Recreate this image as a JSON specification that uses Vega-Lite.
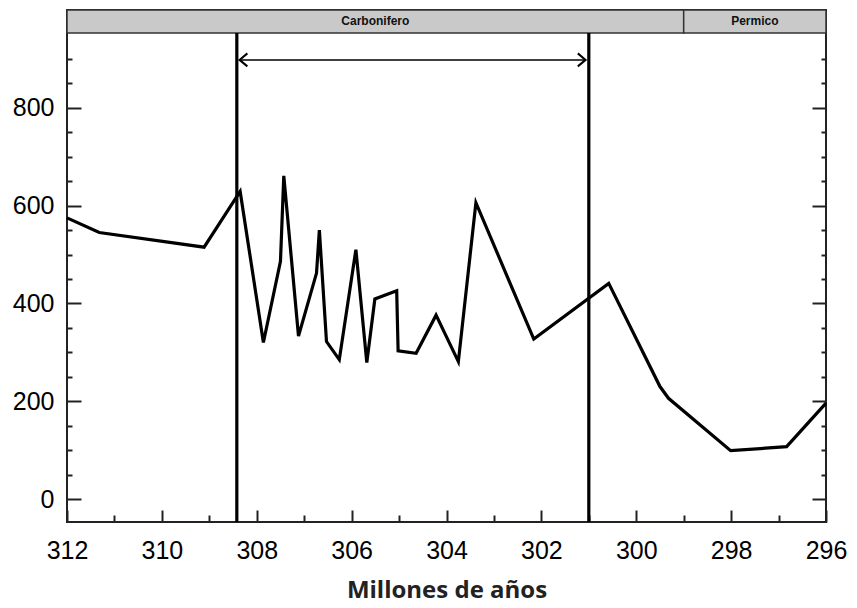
{
  "$schema": "https://vega.github.io/schema/vega-lite/v6.json",
  "width": 759,
  "height": 512,
  "autosize": "none",
  "padding": {"left": 67, "top": 10, "right": 31, "bottom": 86},
  "background": "white",
  "config": {
    "view": {"stroke": "#222", "strokeWidth": 2},
    "axis": {"grid": false, "domain": false, "labelColor": "black", "tickColor": "#222", "tickWidth": 2}
  },
  "datasets": {
    "serie": [
      {"edad": 312.0, "valor": 575},
      {"edad": 311.32, "valor": 545},
      {"edad": 309.11, "valor": 515},
      {"edad": 308.35, "valor": 629},
      {"edad": 307.86, "valor": 320},
      {"edad": 307.5, "valor": 486},
      {"edad": 307.43, "valor": 661},
      {"edad": 307.12, "valor": 333},
      {"edad": 306.74, "valor": 462},
      {"edad": 306.68, "valor": 550},
      {"edad": 306.53, "valor": 322},
      {"edad": 306.26, "valor": 285},
      {"edad": 305.91, "valor": 510},
      {"edad": 305.68, "valor": 279},
      {"edad": 305.51, "valor": 409},
      {"edad": 305.05, "valor": 426},
      {"edad": 305.02, "valor": 303},
      {"edad": 304.64, "valor": 298},
      {"edad": 304.22, "valor": 376},
      {"edad": 303.75, "valor": 281},
      {"edad": 303.38, "valor": 606},
      {"edad": 302.16, "valor": 327},
      {"edad": 300.58, "valor": 441},
      {"edad": 299.5, "valor": 230},
      {"edad": 299.32, "valor": 206},
      {"edad": 298.01, "valor": 99},
      {"edad": 296.83, "valor": 107},
      {"edad": 296.0, "valor": 196}
    ],
    "periodos": [
      {"periodo": "Carbonifero", "inicio": 312, "fin": 299},
      {"periodo": "Permico", "inicio": 299, "fin": 296}
    ],
    "limites": [{"edad": 308.42}, {"edad": 301.0}],
    "flecha": [{"desde": 308.36, "hasta": 301.07, "nivel": 898}],
    "puntas": [
      {"edad": 308.28, "nivel": 898, "dir": "izq"},
      {"edad": 301.15, "nivel": 898, "dir": "der"}
    ]
  },
  "layer": [
    {
      "data": {"name": "periodos"},
      "mark": {"type": "rect", "fill": "#c9c9c9", "stroke": "#333", "strokeWidth": 1.5},
      "encoding": {
        "x": {"field": "inicio", "type": "quantitative", "scale": {"domain": [312, 296]}, "axis": null},
        "x2": {"field": "fin"},
        "y": {"datum": 953, "type": "quantitative", "scale": {"domain": [-47, 1000], "nice": false, "zero": false}, "axis": null},
        "y2": {"datum": 1000}
      }
    },
    {
      "data": {"name": "periodos"},
      "transform": [{"calculate": "(datum.inicio + datum.fin) / 2", "as": "centro"}],
      "mark": {"type": "text", "font": "Liberation Sans", "fontWeight": "bold", "fontSize": 12, "color": "#111", "baseline": "middle"},
      "encoding": {
        "x": {"field": "centro", "type": "quantitative", "axis": null},
        "y": {"datum": 976.5, "type": "quantitative", "axis": null},
        "text": {"field": "periodo"}
      }
    },
    {
      "data": {"name": "serie"},
      "mark": {"type": "line", "color": "black", "strokeWidth": 3.2, "strokeJoin": "miter"},
      "encoding": {
        "x": {
          "field": "edad", "type": "quantitative",
          "axis": {
            "orient": "bottom",
            "values": [296, 297, 298, 299, 300, 301, 302, 303, 304, 305, 306, 307, 308, 309, 310, 311, 312],
            "labelExpr": "datum.value % 2 === 0 ? datum.label : ''",
            "tickSize": {"condition": {"test": "datum.value % 2 === 0", "value": -12}, "value": -7},
            "labelFont": "Liberation Sans", "labelFontSize": 25, "labelPadding": 28,
            "labelFlush": false, "labelOverlap": false, "labelBound": false,
            "title": "Millones de años", "titleFont": "Open Sans", "titleFontWeight": "bold", "titleFontSize": 24,
            "titleColor": "#222", "titlePadding": 10
          }
        },
        "y": {
          "field": "valor", "type": "quantitative",
          "axis": {
            "orient": "left",
            "values": [0, 50, 100, 150, 200, 250, 300, 350, 400, 450, 500, 550, 600, 650, 700, 750, 800, 850, 900],
            "labelExpr": "datum.value % 200 === 0 ? datum.label : ''",
            "tickSize": {"condition": {"test": "datum.value % 200 === 0", "value": -14}, "value": -5},
            "labelFont": "Liberation Sans", "labelFontSize": 25, "labelPadding": 27,
            "labelOverlap": false, "labelFlush": false,
            "title": null
          }
        }
      }
    },
    {
      "data": {"name": "limites"},
      "mark": {"type": "rule", "color": "black", "strokeWidth": 3.2},
      "encoding": {
        "x": {"field": "edad", "type": "quantitative", "axis": null},
        "y": {
          "datum": -47, "type": "quantitative",
          "axis": {
            "orient": "right",
            "values": [0, 50, 100, 150, 200, 250, 300, 350, 400, 450, 500, 550, 600, 650, 700, 750, 800, 850, 900],
            "labels": false,
            "tickSize": {"condition": {"test": "datum.value % 200 === 0", "value": -14}, "value": -5},
            "title": null
          }
        },
        "y2": {"datum": 953}
      }
    },
    {
      "data": {"name": "flecha"},
      "mark": {"type": "rule", "color": "black", "strokeWidth": 1.5},
      "encoding": {
        "x": {"field": "desde", "type": "quantitative", "axis": null},
        "x2": {"field": "hasta"},
        "y": {"field": "nivel", "type": "quantitative", "axis": null}
      }
    },
    {
      "data": {"name": "puntas"},
      "mark": {"type": "point", "filled": false, "stroke": "black", "strokeWidth": 2, "size": 169, "opacity": 1},
      "encoding": {
        "x": {"field": "edad", "type": "quantitative", "axis": null},
        "y": {"field": "nivel", "type": "quantitative", "axis": null},
        "shape": {
          "field": "dir", "type": "nominal", "legend": null,
          "scale": {"domain": ["izq", "der"], "range": ["M0.6,-1L-0.6,0L0.6,1", "M-0.6,-1L0.6,0L-0.6,1"]}
        }
      }
    }
  ],
  "resolve": {"axis": {"x": "independent", "y": "independent"}}
}
